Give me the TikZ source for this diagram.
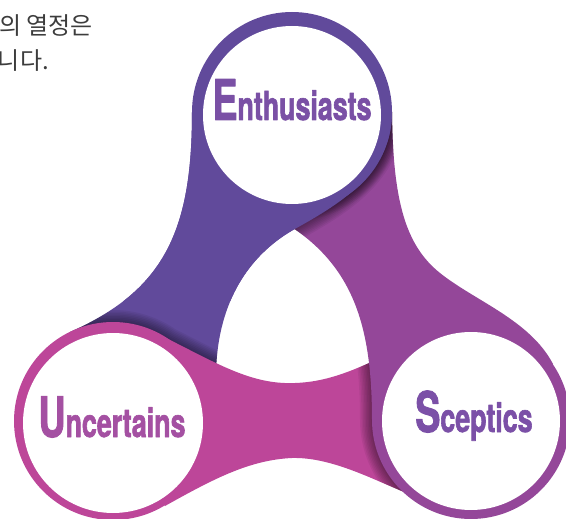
\documentclass[tikz,border=0pt]{standalone}
\usepackage{fontspec}
\usepackage{tikz}
\usetikzlibrary{positioning}
\setmainfont{TeX Gyre Heros}
\newfontfamily\labelfont[FakeStretch=0.67, FakeBold=1.5]{TeX Gyre Heros}
\newfontfamily\krfont{Noto Sans CJK KR}

\definecolor{enthcol}{RGB}{97,74,155}
\definecolor{uncol}{RGB}{189,70,153}
\definecolor{sceptcol}{RGB}{148,71,153}
\definecolor{enthtext}{RGB}{122,80,165}
\definecolor{untext}{RGB}{164,80,162}
\definecolor{sctext}{RGB}{123,80,167}
\definecolor{krgray}{RGB}{60,60,60}

\newcommand{\capsz}{\fontsize{56}{56}\selectfont}
\newcommand{\lowsz}{\fontsize{40}{40}\selectfont}

\newcommand{\tailE}{(292,112) -- (192,112) .. controls (192,230) and (165,290) .. (70,332) -- (113,421) -- (216,372) .. controls (218,300) and (250,255) .. (293,230) .. controls (336,206) and (392,175) .. (392,112) -- cycle}
\newcommand{\tailU}{(113,421) -- (160,335) .. controls (215,362) and (250,385) .. (295,383) .. controls (325,382) and (350,372) .. (380,358) -- (471,420) -- (404,492) .. controls (370,478) and (330,457) .. (292,458) .. controls (250,460) and (215,478) .. (165,506) -- cycle}
\newcommand{\tailS}{(471,420) -- (372,420) .. controls (372,330) and (355,270) .. (293,228) -- (292,112) -- (392,112) .. controls (393,200) and (405,245) .. (440,273) .. controls (475,301) and (530,320) .. (553,364) -- cycle}

\begin{document}
\begin{tikzpicture}[x=1pt, y=-1pt, line join=round,
    lbl/.style={anchor=base, inner sep=0pt, font=\labelfont\bfseries\lowsz},
    krtext/.style={anchor=base east, inner sep=0pt, text=krgray, font=\krfont\fontsize{24}{24}\selectfont}]
  \clip (0,0) rectangle (566,519);

  \fill[enthcol] \tailE;
  \begin{scope}
    \clip \tailE;
    \foreach \w in {3,6,...,24}
      \draw[black, opacity=0.06, line width=\w] (113,421) circle (99) \tailU;
  \end{scope}

  \fill[uncol] \tailU;
  \begin{scope}
    \clip \tailU;
    \foreach \w in {3,6,...,24}
      \draw[black, opacity=0.06, line width=\w] (471,420) circle (99) \tailS;
  \end{scope}

  \fill[sceptcol] \tailS;
  \begin{scope}
    \clip \tailS;
    \foreach \w in {3,6,...,18}
      \draw[black, opacity=0.05, line width=\w] (292,112) circle (100);
    \clip (0,0) rectangle (566,300);
    \foreach \w in {3,6,...,24}
      \draw[black, opacity=0.06, line width=\w] \tailE;
  \end{scope}
  \begin{scope}
    \clip (0,0) rectangle (566,300);
    \fill[enthcol] \tailE;
  \end{scope}

  \fill[enthcol] (292,112) circle (100);
  \fill[white] (292,115) circle (89);
  \fill[uncol] (113,421) circle (99);
  \fill[white] (113,423) circle (90);
  \fill[sceptcol] (471,420) circle (99);
  \fill[white] (471,421) circle (89);

  \node[lbl, text=enthtext] (enth) at (292,120) {{\capsz E}nthusiasts};
  \node[lbl, text=untext] (uncert) at (112,437) {{\capsz U}ncertains};
  \node[lbl, text=sctext] (scept) at (474,432) {{\capsz S}ceptics};

  \node[krtext] (kr1) at (93,35) {의 열정은};
  \node[krtext] (kr2) at (49,70) {니다.};
\end{tikzpicture}
\end{document}
